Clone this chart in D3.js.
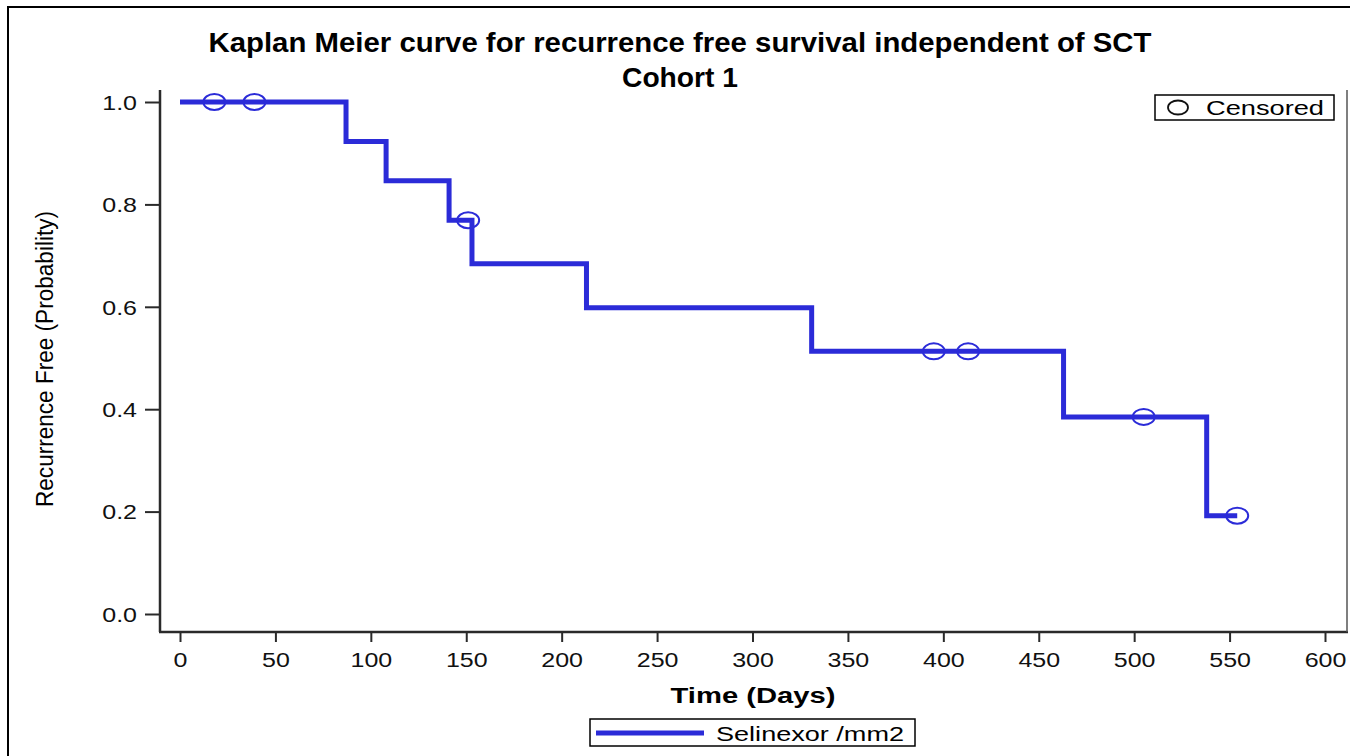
<!DOCTYPE html>
<html>
<head>
<meta charset="utf-8">
<script src="https://cdn.jsdelivr.net/npm/d3@7"></script>
<style>
  body { margin: 0; background: #fff; }
  svg { display: block; font-family: "Liberation Sans", Arial, sans-serif; }
</style>
</head>
<body>
<svg id="chart" width="1350" height="756"></svg>
<script>
// Kaplan-Meier step data
var eventTimes = [0, 87, 108, 141, 153, 213, 331, 463, 538];
var survival = [1.0, 0.923, 0.846, 0.769, 0.684, 0.598, 0.513, 0.385, 0.192];
var lastTime = 554;
var censorTimes = [18, 39, 151, 395, 413, 505, 554];

var xTicks = [0, 50, 100, 150, 200, 250, 300, 350, 400, 450, 500, 550, 600];
var yTicks = [0, 0.2, 0.4, 0.6, 0.8, 1.0];

var titleLines = ["Kaplan Meier curve for recurrence free survival independent of SCT", "Cohort 1"];
var xLabel = "Time (Days)";
var yLabel = "Recurrence Free (Probability)";
var seriesName = "Selinexor /mm2";
var censorName = "Censored";

var blue = "#2b2bd8";
var axisColor = "#2a2a2a";

var svg = d3.select("#chart");

// stretch/squeeze a text to a pixel width
function fitWidth(sel, w) {
  sel.attr("textLength", w).attr("lengthAdjust", "spacingAndGlyphs");
}
function stretch(sel, k) {
  sel.each(function () {
    var w = this.getComputedTextLength();
    d3.select(this).attr("textLength", w * k).attr("lengthAdjust", "spacingAndGlyphs");
  });
}

// outer frame (only left and top visible)
svg.append("rect")
  .attr("x", 8).attr("y", 7).attr("width", 1400).attr("height", 800)
  .attr("fill", "none").attr("stroke", "#000").attr("stroke-width", 2);

var x = d3.scaleLinear().domain([0, 600]).range([180, 1325]);
var y = d3.scaleLinear().domain([0, 1]).range([614, 102]);

var plotLeft = 160, plotRight = 1347, plotTop = 90, plotBottom = 632;

// title
svg.selectAll(".title").data(titleLines).enter().append("text")
  .attr("class", "title")
  .attr("x", 680)
  .attr("y", function (d, i) { return 52 + i * 35; })
  .attr("text-anchor", "middle")
  .attr("font-size", 27)
  .attr("font-weight", "bold")
  .text(function (d) { return d; })
  .each(function (d, i) { fitWidth(d3.select(this), i === 0 ? 943 : 116); });

// axes
var yAxis = svg.append("g")
  .attr("transform", "translate(" + plotLeft + ",0)")
  .call(d3.axisLeft(y).tickValues(yTicks).tickFormat(d3.format(".1f")).tickSize(15).tickPadding(8));

var xAxis = svg.append("g")
  .attr("transform", "translate(0," + plotBottom + ")")
  .call(d3.axisBottom(x).tickValues(xTicks).tickFormat(d3.format("d")).tickSize(10).tickPadding(11));

[yAxis, xAxis].forEach(function (g) {
  g.select(".domain").remove();
  g.selectAll(".tick line").attr("stroke", axisColor).attr("stroke-width", 2);
  g.selectAll(".tick text")
    .attr("fill", "#111")
    .attr("font-size", 20)
    .attr("font-family", "'Liberation Sans', Arial, sans-serif")
    .call(stretch, 1.25);
});
yAxis.selectAll(".tick text").attr("dy", "0.36em");

// plot frame lines: left, bottom, right
var frame = [
  [[plotLeft, plotTop], [plotLeft, plotBottom]],
  [[plotLeft - 1, plotBottom], [plotRight + 1, plotBottom]],
  [[plotRight, plotTop], [plotRight, plotBottom]]
];
svg.selectAll(".frame").data(frame).enter().append("path")
  .attr("class", "frame")
  .attr("d", d3.line())
  .attr("stroke", function (d, i) { return i === 2 ? "#555" : axisColor; })
  .attr("stroke-width", function (d, i) { return i === 2 ? 1.5 : 2.5; })
  .attr("fill", "none");

// axis labels
svg.append("text")
  .attr("x", 753).attr("y", 703)
  .attr("text-anchor", "middle")
  .attr("font-size", 22).attr("font-weight", "bold")
  .text(xLabel)
  .call(fitWidth, 165);

svg.append("text")
  .attr("transform", "translate(53,359) rotate(-90)")
  .attr("text-anchor", "middle")
  .attr("font-size", 23)
  .text(yLabel)
  .call(fitWidth, 296);

// survival step curve
var steps = eventTimes.map(function (t, i) { return [t, survival[i]]; });
steps.push([lastTime, survival[survival.length - 1]]);

svg.append("path")
  .datum(steps)
  .attr("fill", "none")
  .attr("stroke", blue)
  .attr("stroke-width", 5)
  .attr("d", d3.line()
    .x(function (d) { return x(d[0]); })
    .y(function (d) { return y(d[1]); })
    .curve(d3.curveStepAfter));

function survAt(t) {
  var s = 1;
  eventTimes.forEach(function (e, i) { if (e <= t) s = survival[i]; });
  return s;
}

svg.selectAll(".censor").data(censorTimes).enter().append("ellipse")
  .attr("class", "censor")
  .attr("cx", function (d) { return x(d); })
  .attr("cy", function (d) { return y(survAt(d)); })
  .attr("rx", 11).attr("ry", 8)
  .attr("fill", "none")
  .attr("stroke", blue)
  .attr("stroke-width", 2);

// censored legend (top right)
var leg1 = svg.append("g");
leg1.append("rect")
  .attr("x", 1155).attr("y", 95).attr("width", 179).attr("height", 25)
  .attr("fill", "#fff").attr("stroke", "#000").attr("stroke-width", 1.5);
leg1.append("ellipse")
  .attr("cx", 1178).attr("cy", 107.5).attr("rx", 10).attr("ry", 7)
  .attr("fill", "none").attr("stroke", "#111").attr("stroke-width", 1.8);
leg1.append("text")
  .attr("x", 1206).attr("y", 115)
  .attr("font-size", 20)
  .text(censorName)
  .call(fitWidth, 118);

// series legend (bottom)
var leg2 = svg.append("g");
leg2.append("rect")
  .attr("x", 590).attr("y", 719).attr("width", 325).attr("height", 27)
  .attr("fill", "#fff").attr("stroke", "#000").attr("stroke-width", 1.5);
leg2.append("line")
  .attr("x1", 596).attr("x2", 704).attr("y1", 733).attr("y2", 733)
  .attr("stroke", blue).attr("stroke-width", 5);
leg2.append("text")
  .attr("x", 716).attr("y", 741)
  .attr("font-size", 20)
  .text(seriesName)
  .call(fitWidth, 188);
</script>
</body>
</html>
